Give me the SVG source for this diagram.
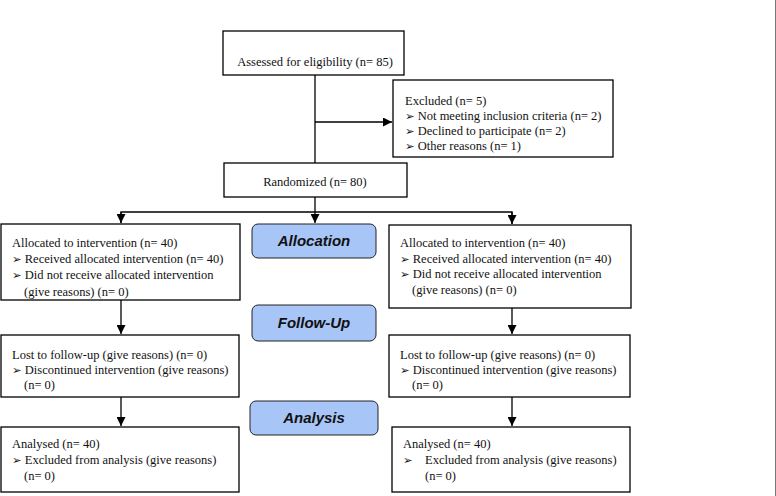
<svg xmlns="http://www.w3.org/2000/svg" width="776" height="496" viewBox="0 0 776 496">
<defs>
<style>
.box{fill:#fff;stroke:#000;stroke-width:1.3}
.pill{fill:#a8c5f7;stroke:#222;stroke-width:1}
.t{font-family:"Liberation Serif","Times New Roman",serif;font-size:12.5px;fill:#111}
.b{font-family:"DejaVu Sans",sans-serif;font-size:11.5px}
.p{font-family:"Liberation Sans",Arial,sans-serif;font-size:15px;font-weight:bold;font-style:italic;fill:#111;text-anchor:middle}
.ln{stroke:#000;stroke-width:1.3;fill:none}
</style>
<marker id="ah" viewBox="0 0 10 10" refX="10" refY="5" markerWidth="9" markerHeight="9" markerUnits="userSpaceOnUse" orient="auto"><path d="M0,0 L10,5 L0,10 z" fill="#000"/></marker>
</defs>
<rect width="776" height="496" fill="#fff"/>
<line x1="775.5" y1="0" x2="775.5" y2="496" stroke="#777" stroke-width="1"/>
<g id="connectors">
<line class="ln" x1="315" y1="75" x2="315" y2="163"/>
<line class="ln" x1="315" y1="122" x2="392" y2="122" marker-end="url(#ah)"/>
<line class="ln" x1="315" y1="197" x2="315" y2="223" marker-end="url(#ah)"/>
<polyline class="ln" points="121,223 121,212 512,212 512,224" />
<line class="ln" x1="121" y1="212" x2="121" y2="223" marker-end="url(#ah)"/>
<line class="ln" x1="512" y1="212" x2="512" y2="224" marker-end="url(#ah)"/>
<line class="ln" x1="121" y1="300" x2="121" y2="334" marker-end="url(#ah)"/>
<line class="ln" x1="512" y1="308" x2="512" y2="334" marker-end="url(#ah)"/>
<line class="ln" x1="121" y1="397" x2="121" y2="426" marker-end="url(#ah)"/>
<line class="ln" x1="512" y1="397" x2="512" y2="426" marker-end="url(#ah)"/>
</g>
<g id="assessed">
<rect class="box" x="223" y="31" width="181" height="44"/>
<text class="t" x="315" y="66" text-anchor="middle">Assessed for eligibility (n= 85)</text>
</g>
<g id="excluded">
<rect class="box" x="393" y="80" width="220" height="77"/>
<text class="t" x="405" y="105">Excluded (n= 5)</text>
<text class="t" x="405" y="120"><tspan class="b">➢</tspan> Not meeting inclusion criteria (n= 2)</text>
<text class="t" x="405" y="135"><tspan class="b">➢</tspan> Declined to participate (n= 2)</text>
<text class="t" x="405" y="150"><tspan class="b">➢</tspan> Other reasons (n= 1)</text>
</g>
<g id="randomized">
<rect class="box" x="224" y="163" width="183" height="34"/>
<text class="t" x="315" y="186" text-anchor="middle">Randomized (n= 80)</text>
</g>
<g id="alloc-left">
<rect class="box" x="1" y="224" width="239" height="76"/>
<text class="t" x="12" y="247">Allocated to intervention (n= 40)</text>
<text class="t" x="12" y="263"><tspan class="b">➢</tspan> Received allocated intervention (n= 40)</text>
<text class="t" x="12" y="279"><tspan class="b">➢</tspan> Did not receive allocated intervention</text>
<text class="t" x="24" y="296">(give reasons) (n= 0)</text>
</g>
<g id="alloc-right">
<rect class="box" x="389" y="225" width="242" height="83"/>
<text class="t" x="400" y="247">Allocated to intervention (n= 40)</text>
<text class="t" x="400" y="263"><tspan class="b">➢</tspan> Received allocated intervention (n= 40)</text>
<text class="t" x="400" y="278"><tspan class="b">➢</tspan> Did not receive allocated intervention</text>
<text class="t" x="412" y="294">(give reasons) (n= 0)</text>
</g>
<g id="allocation">
<rect class="pill" x="252" y="224" width="124" height="34" rx="6"/>
<text class="p" x="314" y="246">Allocation</text>
</g>
<g id="followup">
<rect class="pill" x="252" y="305" width="124" height="36" rx="6"/>
<text class="p" x="314" y="328">Follow-Up</text>
</g>
<g id="analysis">
<rect class="pill" x="250" y="401" width="128" height="34" rx="6"/>
<text class="p" x="314" y="423">Analysis</text>
</g>
<g id="follow-left">
<rect class="box" x="1" y="335" width="238" height="62"/>
<text class="t" x="12" y="359">Lost to follow-up (give reasons) (n= 0)</text>
<text class="t" x="12" y="374"><tspan class="b">➢</tspan> Discontinued intervention (give reasons)</text>
<text class="t" x="24" y="389">(n= 0)</text>
</g>
<g id="follow-right">
<rect class="box" x="389" y="335" width="241" height="62"/>
<text class="t" x="400" y="359">Lost to follow-up (give reasons) (n= 0)</text>
<text class="t" x="400" y="374"><tspan class="b">➢</tspan> Discontinued intervention (give reasons)</text>
<text class="t" x="412" y="389">(n= 0)</text>
</g>
<g id="analysed-left">
<rect class="box" x="1" y="427" width="238" height="65"/>
<text class="t" x="12" y="448">Analysed (n= 40)</text>
<text class="t" x="12" y="464"><tspan class="b">➢</tspan> Excluded from analysis (give reasons)</text>
<text class="t" x="24" y="480">(n= 0)</text>
</g>
<g id="analysed-right">
<rect class="box" x="392" y="427" width="238" height="65"/>
<text class="t" x="403" y="448">Analysed (n= 40)</text>
<text class="t" x="403" y="464"><tspan class="b">➢</tspan><tspan x="425">Excluded from analysis (give reasons)</tspan></text>
<text class="t" x="425" y="480">(n= 0)</text>
</g>
</svg>
